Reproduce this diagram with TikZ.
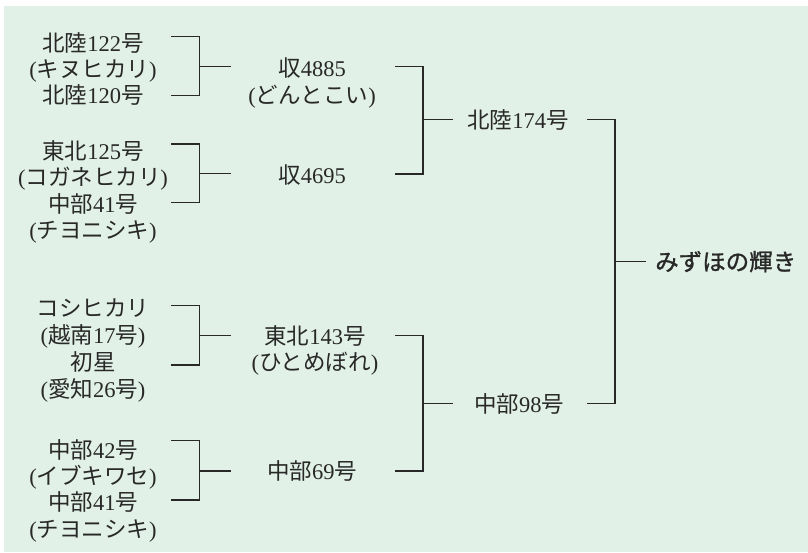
\documentclass[tikz,border=0pt]{standalone}
\usepackage{fontspec}
\setmainfont{Liberation Serif}
\newfontfamily\cjk{Noto Sans CJK JP}
\newfontfamily\cjkt{Noto Sans CJK JP}[FakeBold=1.2]
\newcommand\J[1]{{\cjk #1}}
\definecolor{bgc}{RGB}{225,241,231}
\definecolor{ink}{RGB}{40,40,40}
\newcommand\brk[6]{%
  \coordinate (#1t) at (#2,#5);
  \coordinate (#1b) at (#2,#6);
  \coordinate (#1s) at (#3,#5);
  \draw[link] (#1t) -- (#1s) |- (#1b);
}
\begin{document}
\begin{tikzpicture}[x=1pt,y=-1pt,
  t/.style={inner sep=0pt,text=ink,font=\fontsize{22.5}{26}\selectfont,
            text height=19.8pt,text depth=2.7pt,anchor=center},
  ttl/.style={inner sep=0pt,text=ink,font=\fontsize{23.5}{26}\selectfont\cjkt,
            text height=20pt,text depth=3pt,anchor=west},
  link/.style={draw=ink,line width=1.5pt,line join=miter}]
\useasboundingbox (0,0) rectangle (808,552);
\fill[white] (0,0) rectangle (808,552);
\fill[bgc] (4,6) rectangle (808,552);

% left column
\node[t] (a1) at (93,42.5) {\J{北陸}122\J{号}};
\node[t] (a2) at (93,68.5) {(\J{キヌヒカリ})};
\node[t] (a3) at (93,95) {\J{北陸}120\J{号}};

\node[t] (b1) at (93,151) {\J{東北}125\J{号}};
\node[t] (b2) at (93,177) {(\J{コガネヒカリ})};
\node[t] (b3) at (93,203.5) {\J{中部}41\J{号}};
\node[t] (b4) at (93,230) {(\J{チヨニシキ})};

\node[t] (c1) at (93,308) {\J{コシヒカリ}};
\node[t] (c2) at (93,335) {(\J{越南}17\J{号})};
\node[t] (c3) at (93,362) {\J{初星}};
\node[t] (c4) at (93,388.5) {(\J{愛知}26\J{号})};

\node[t] (d1) at (93,450) {\J{中部}42\J{号}};
\node[t] (d2) at (93,476) {(\J{イブキワセ})};
\node[t] (d3) at (93,502) {\J{中部}41\J{号}};
\node[t] (d4) at (93,528.5) {(\J{チヨニシキ})};

% middle column
\node[t] (m1) at (312,68) {\J{収}4885};
\node[t] (m1b) at (312,95) {(\J{どんとこい})};
\node[t] (m2) at (312,175) {\J{収}4695};
\node[t] (m3) at (315,335.5) {\J{東北}143\J{号}};
\node[t] (m3b) at (315,362) {(\J{ひとめぼれ})};
\node[t] (m4) at (312,471) {\J{中部}69\J{号}};

% third column
\node[t] (p1) at (518,119.5) {\J{北陸}174\J{号}};
\node[t] (p2) at (519,404) {\J{中部}98\J{号}};

% result
\node[ttl] (r) at (655,262) {みずほの輝き};

% brackets: name, left x, spine x, right x, top y, bottom y
\brk{g1}{171}{199.3}{230.7}{36.7}{95.7}
\brk{g2}{171}{199.3}{230.7}{144}{202.7}
\brk{g3}{171}{199.3}{230.7}{305.3}{365}
\brk{g4}{171}{199.3}{230.7}{440.7}{500}
\brk{h1}{395}{423}{453}{66.7}{174}
\brk{h2}{395}{423}{453}{335.7}{471}
\brk{k1}{587}{615}{646}{119.3}{403.5}

% outgoing stubs
\coordinate (g1o) at (230.7,66.7);
\coordinate (g2o) at (230.7,173.3);
\coordinate (g3o) at (230.7,335.7);
\coordinate (g4o) at (230.7,471);
\coordinate (h1o) at (453,119.3);
\coordinate (h2o) at (453,403.5);
\coordinate (k1o) at (646,261.7);
\draw[link] (g1s |- g1o) -- (g1o);
\draw[link] (g2s |- g2o) -- (g2o);
\draw[link] (g3s |- g3o) -- (g3o);
\draw[link] (g4s |- g4o) -- (g4o);
\draw[link] (h1s |- h1o) -- (h1o);
\draw[link] (h2s |- h2o) -- (h2o);
\draw[link] (k1s |- k1o) -- (k1o);
\end{tikzpicture}
\end{document}
